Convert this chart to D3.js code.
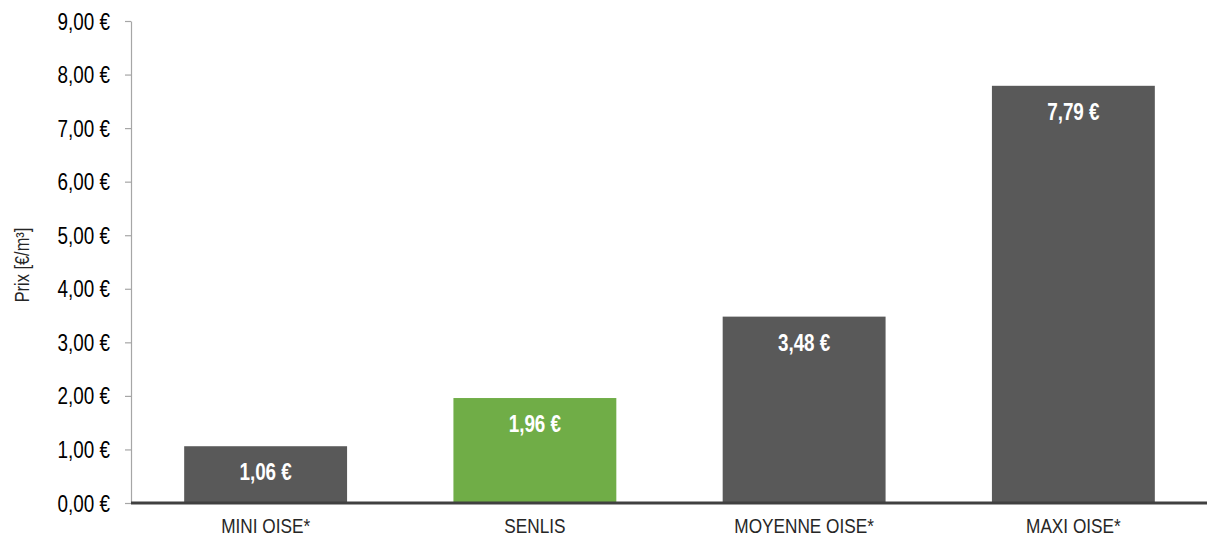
<!DOCTYPE html>
<html>
<head>
<meta charset="utf-8">
<script src="https://cdn.jsdelivr.net/npm/d3@7"></script>
<style>
  body { margin: 0; background: #fff; }
  svg { display: block; font-family: 'Liberation Sans', Arial, sans-serif; }
</style>
</head>
<body>
<script>
// données
const categories = ['MINI OISE*', 'SENLIS', 'MOYENNE OISE*', 'MAXI OISE*']
const prix = [1.06, 1.96, 3.48, 7.79]
const couleurs = ['#595959', '#70ad47', '#595959', '#595959']
const yTicks = [0, 1, 2, 3, 4, 5, 6, 7, 8, 9]

const width = 1207, height = 539
const margin = { top: 21, right: 0, bottom: 36, left: 131 }
const serre = 0.82 // pas de police "narrow" installée : on compresse à la main

const fmt = d => d.toFixed(2).replace('.', ',') + ' €'

// place un texte en (px, py) puis le compresse horizontalement
function narrow(sel, px, py) {
    sel.each(function(d, i) {
        const t = d3.select(this)
        const xx = typeof px === 'function' ? px(d, i) : px
        const yy = typeof py === 'function' ? py(d, i) : py
        t.attr('x', 0).attr('y', 0)
            .attr('transform', 'translate(' + xx + ',' + yy + ') scale(' + serre + ',1)')
    })
}

const svg = d3.select('body').append('svg')
    .attr('width', width)
    .attr('height', height)

const x = d3.scaleBand()
    .domain(categories)
    .range([margin.left, width + 1])
    .paddingInner(0.395)
    .paddingOuter(0.1975)

const y = d3.scaleLinear()
    .domain([0, 9])
    .range([height - margin.bottom, margin.top])

// axe Y
const yAxis = svg.append('g')
    .attr('transform', 'translate(' + margin.left + ',0)')
    .call(d3.axisLeft(y).tickValues(yTicks).tickFormat(fmt).tickSize(6).tickPadding(14).tickSizeOuter(0))
yAxis.select('.domain').attr('stroke', '#a6a6a6').attr('stroke-width', 1.2)
yAxis.selectAll('.tick line').attr('stroke', '#a6a6a6').attr('stroke-width', 1.2)
yAxis.selectAll('.tick text')
    .attr('fill', '#000')
    .style('font-size', '23px')
    .attr('dy', '0.35em')
    .call(narrow, -21, 0)

// titre de l'axe
svg.append('text')
    .attr('transform', 'translate(22,' + (y(4.5) + 3) + ') rotate(-90) scale(' + serre + ',1)')
    .attr('text-anchor', 'middle')
    .attr('dy', '0.35em')
    .style('font-size', '20px')
    .attr('fill', '#262626')
    .text('Prix [€/m³]')

// barres
svg.selectAll('rect.bar')
    .data(prix)
    .join('rect')
    .attr('class', 'bar')
    .attr('x', (d, i) => x(categories[i]))
    .attr('y', d => y(d))
    .attr('width', x.bandwidth())
    .attr('height', d => y(0) - y(d))
    .attr('fill', (d, i) => couleurs[i])

// étiquettes des barres
svg.selectAll('text.val')
    .data(prix)
    .join('text')
    .attr('class', 'val')
    .attr('text-anchor', 'middle')
    .attr('dy', '0.35em')
    .style('font-size', '23px')
    .style('font-weight', 'bold')
    .attr('fill', '#fff')
    .text(fmt)
    .call(narrow, (d, i) => x(categories[i]) + x.bandwidth() / 2, d => y(d) + 26)

// axe X
const xAxis = svg.append('g')
    .attr('transform', 'translate(0,' + y(0) + ')')
    .call(d3.axisBottom(x).tickSize(0).tickPadding(15))
xAxis.select('.domain').remove()
xAxis.selectAll('.tick text')
    .attr('fill', '#262626')
    .style('font-size', '21px')
    .attr('dy', '0.71em')
    .call(narrow, 0, 15)

svg.append('line')
    .attr('x1', margin.left)
    .attr('x2', width)
    .attr('y1', y(0))
    .attr('y2', y(0))
    .attr('stroke', '#404040')
    .attr('stroke-width', 3)
</script>
</body>
</html>
